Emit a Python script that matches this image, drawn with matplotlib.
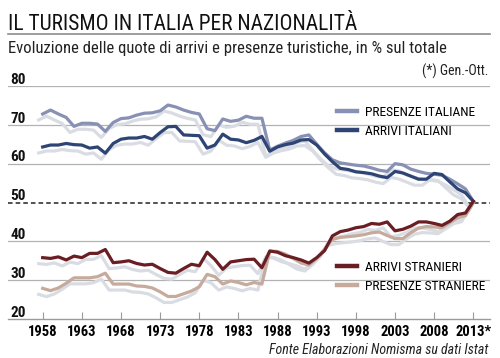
import matplotlib
matplotlib.use("Agg")
import matplotlib.pyplot as plt
import matplotlib.transforms as mtransforms
from matplotlib.lines import Line2D

plt.rcParams['font.family'] = ['Liberation Sans Narrow', 'DejaVu Sans Condensed',
                               'Roboto Condensed', 'Liberation Sans', 'DejaVu Sans']

# --- data ---
years = list(range(1958, 2014))
presenze_italiane = [72.8, 73.8, 72.8, 71.9, 69.6, 70.4, 70.4, 70.2, 68.3, 70.6,
                     71.6, 71.8, 72.5, 73.0, 73.1, 73.6, 75.1, 74.6, 73.8, 73.2,
                     72.8, 69.0, 68.5, 71.5, 70.9, 71.2, 72.2, 71.7, 71.7, 63.5,
                     64.5, 65.3, 66.0, 67.0, 67.4, 65.0, 62.8, 61.0, 60.2, 59.9,
                     59.6, 59.4, 58.9, 58.3, 58.0, 60.0, 59.7, 58.6, 58.0, 57.5,
                     57.3, 57.0, 56.0, 54.8, 53.5, 50.3]
arrivi_italiani = [64.3, 64.8, 64.8, 65.2, 64.9, 64.8, 64.0, 64.3, 62.7, 65.2,
                   66.3, 66.6, 66.6, 67.0, 66.3, 68.0, 69.5, 69.6, 67.4, 67.3,
                   67.2, 64.0, 64.8, 67.6, 66.3, 66.1, 65.4, 66.0, 67.0, 63.2,
                   64.3, 64.9, 65.3, 66.1, 66.2, 64.8, 62.5, 60.5, 58.8, 58.5,
                   57.9, 57.7, 57.4, 56.8, 56.4, 58.0, 57.6, 56.8, 56.0, 56.0,
                   57.5, 57.2, 55.3, 53.5, 52.5, 50.3]
arrivi_stranieri = [35.8, 35.6, 36.0, 35.2, 36.2, 35.8, 36.9, 36.9, 37.9, 34.5,
                    34.7, 35.0, 34.3, 33.9, 34.1, 33.0, 32.0, 31.8, 33.0, 34.1,
                    33.7, 37.2, 35.3, 32.8, 34.7, 35.0, 35.3, 35.4, 33.2, 37.5,
                    37.2, 36.3, 35.8, 35.2, 34.4, 35.8, 37.6, 41.4, 42.5, 42.9,
                    43.5, 43.8, 44.6, 44.4, 45.0, 42.7, 43.1, 43.9, 45.0, 45.0,
                    44.6, 44.1, 45.2, 46.9, 47.3, 50.3]
presenze_straniere = [27.9, 27.3, 28.0, 29.2, 30.6, 30.6, 30.6, 30.9, 31.8, 29.0,
                      29.0, 29.0, 28.5, 28.4, 28.0, 27.0, 25.8, 25.8, 26.5, 27.2,
                      28.3, 31.5, 30.9, 29.0, 29.8, 29.4, 28.8, 29.4, 29.0, 37.5,
                      37.4, 36.7, 35.6, 34.4, 33.9, 35.6, 38.0, 40.5, 41.0, 41.2,
                      41.4, 41.7, 42.2, 42.4, 41.5, 40.7, 40.7, 42.2, 43.4, 43.8,
                      43.7, 43.5, 44.8, 46.1, 46.6, 49.9]

tick_years = [1958, 1963, 1968, 1973, 1978, 1983, 1988, 1993, 1998, 2003, 2008, 2013]
tick_labels = ["1958", "1963", "1968", "1973", "1978", "1983", "1988", "1993",
               "1998", "2003", "2008", "2013*"]
y_levels = [20, 30, 40, 50, 60, 70, 80]

c_pi = "#8890b4"
c_ai = "#2d4475"
c_as = "#6a1e24"
c_ps = "#c6ab9c"
c_shadow = "#d9dde3"

W, H = 500, 358
fig = plt.figure(figsize=(W / 100, H / 100), dpi=100)
fig.patch.set_facecolor("white")

ax = fig.add_axes([8 / W, 1 - 319 / H, 482 / W, 233 / H])
ax.set_xlim(1953.57, 2015.13)
ax.set_ylim(20, 80)

# grid
for v in y_levels[1:]:
    if v == 50:
        ax.axhline(v, color="#222222", lw=1.1, ls=(0, (3, 2)), zorder=1)
    else:
        ax.axhline(v, color="#b2b2b2", lw=0.9, zorder=1)

series = [(presenze_italiane, c_pi), (arrivi_italiani, c_ai),
          (presenze_straniere, c_ps), (arrivi_stranieri, c_as)]

# soft drop shadows
shadow = mtransforms.offset_copy(ax.transData, fig=fig, x=-4, y=-6, units="dots")
for vals, col in series:
    ax.plot(years, vals, color=c_shadow, lw=2.3, transform=shadow,
            solid_joinstyle="round", zorder=2, clip_on=False)
for vals, col in series:
    ax.plot(years, vals, color=col, lw=2.3, solid_joinstyle="round",
            zorder=3, clip_on=False)

# axes styling
for s in ["top", "right", "left"]:
    ax.spines[s].set_visible(False)
ax.spines["bottom"].set_color("#9a9a9a")
ax.spines["bottom"].set_linewidth(1.0)
ax.set_yticks([])
ax.set_xticks(tick_years)
ax.set_xticklabels(tick_labels, fontweight="bold", fontsize=10.5)
ax.tick_params(axis="x", direction="in", length=5, width=0.8, color="#9a9a9a", pad=4.5)

ytr = ax.get_yaxis_transform()
for v in y_levels:
    ax.text(0.005, v + 0.6, str(v), transform=ytr, ha="left", va="baseline",
            fontsize=11, fontweight="bold", color="#111111")

# legends
h_pi = Line2D([], [], color=c_pi, lw=3.2)
h_ai = Line2D([], [], color=c_ai, lw=3.2)
h_as = Line2D([], [], color=c_as, lw=3.2)
h_ps = Line2D([], [], color=c_ps, lw=3.2)
kw = dict(loc="upper left", bbox_transform=fig.transFigure, frameon=False,
          handlelength=1.5, handletextpad=0.6, labelspacing=0.45,
          borderaxespad=0, borderpad=0, fontsize=9.7)
leg1 = ax.legend([h_pi, h_ai], ["PRESENZE ITALIANE", "ARRIVI ITALIANI"],
                 bbox_to_anchor=(337 / W, 1 - 106 / H), **kw)
ax.add_artist(leg1)
ax.legend([h_as, h_ps], ["ARRIVI STRANIERI", "PRESENZE STRANIERE"],
          bbox_to_anchor=(337 / W, 1 - 261 / H), **kw)

# header and footer texts
fig.text(8 / W, 1 - 30 / H, "IL TURISMO IN ITALIA PER NAZIONALITÀ", fontsize=15.5,
         ha="left", va="baseline", color="#111111")
fig.add_artist(Line2D([8 / W, 490 / W], [1 - 34 / H, 1 - 34 / H],
                      color="#8c8c8c", lw=1.2))
fig.text(8 / W, 1 - 53 / H,
         "Evoluzione delle quote di arrivi e presenze turistiche, in % sul totale",
         fontsize=12, ha="left", va="baseline", color="#222222")
fig.text(488 / W, 1 - 76 / H, "(*) Gen.-Ott.", fontsize=10, ha="right",
         va="baseline", color="#222222")
fig.text(488 / W, 1 - 354.5 / H, "Fonte Elaborazioni Nomisma su dati Istat",
         fontsize=10, ha="right", va="baseline", style="italic", color="#222222")

fig.savefig("out.png", dpi=100, facecolor="white")
